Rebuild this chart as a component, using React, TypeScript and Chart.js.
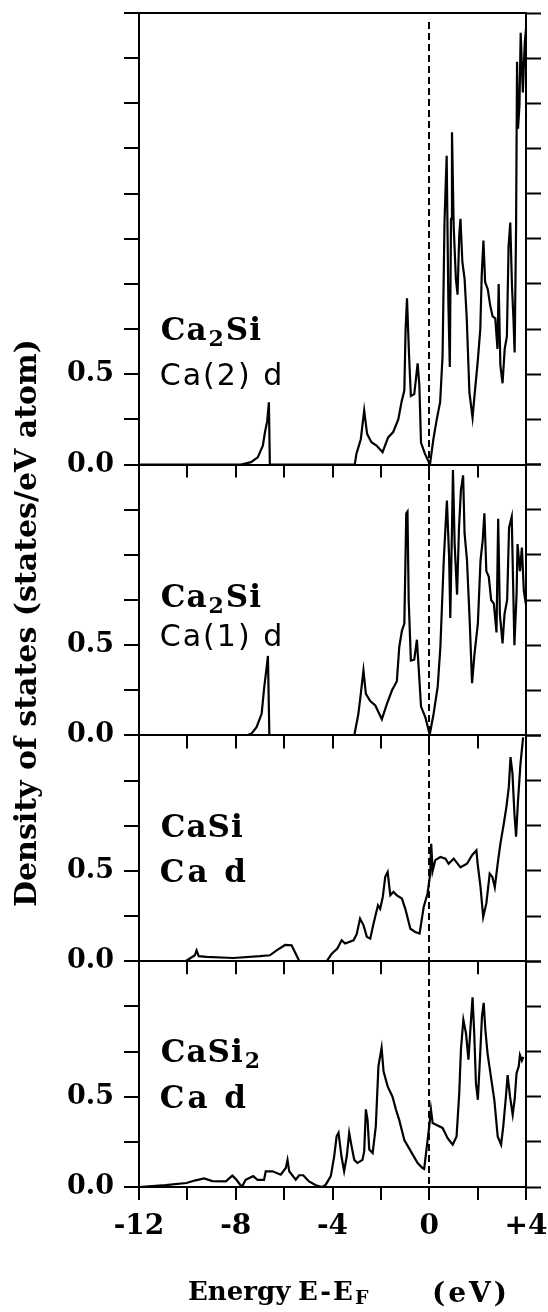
import React, { useEffect, useRef } from 'react';
import { Chart, registerables } from 'chart.js';

Chart.register(...registerables);

// ---------- axis settings ----------
const X_MIN = -12;
const X_MAX = 4;
const X_STEP = 2;
const Y_STEP = 0.25;
const PANEL_MAX = [2.5, 1.5, 1.25, 1.25];
const Y_TICK_LABELS: Record<string, string> = { '0': '0.0', '0.5': '0.5' };

// ---------- panel texts ----------
const PANEL_COMPOUND = ['Ca', 'Ca', 'CaSi', 'CaSi'];
const PANEL_SUB = ['2', '2', '', '2'];
const PANEL_REST = ['Si', 'Si', '', ''];
const PANEL_ORBITAL = ['Ca(2) d', 'Ca(1) d', 'Ca d', 'Ca d'];
const PANEL_ORBITAL_SANS = [true, true, false, false];
const Y_TITLE = 'Density of states (states/eV atom)';

// ---------- Ca2Si, Ca(2) d ----------
const E_P1 = [
  -12, -7.78, -7.37, -7.09, -6.88, -6.79, -6.70, -6.63, -6.59, -3.08,
  -3.01, -2.83, -2.69, -2.57, -2.39, -2.18, -1.93, -1.70, -1.49, -1.28,
  -1.14, -1.03, -0.98, -0.92, -0.84, -0.76, -0.62, -0.48, -0.41, -0.34,
  -0.18, 0.03, 0.17, 0.31, 0.45, 0.55, 0.63, 0.72, 0.79, 0.85,
  0.90, 0.94, 1.01, 1.10, 1.17, 1.24, 1.29, 1.37, 1.46, 1.55,
  1.66, 1.79, 1.87, 2.01, 2.11, 2.17, 2.24, 2.31, 2.42, 2.52,
  2.62, 2.73, 2.82, 2.87, 2.94, 3.03, 3.12, 3.21, 3.28, 3.35,
  3.42, 3.48, 3.53, 3.59, 3.63, 3.67, 3.73, 3.78, 3.87, 3.95,
  4.0,
];
const DOS_P1 = [
  0, 0, 0.013, 0.04, 0.105, 0.18, 0.24, 0.345, 0, 0,
  0.06, 0.14, 0.30, 0.17, 0.124, 0.105, 0.068, 0.15, 0.18, 0.25,
  0.35, 0.41, 0.74, 0.92, 0.62, 0.38, 0.39, 0.56, 0.44, 0.12,
  0.06, 0, 0.14, 0.25, 0.345, 0.60, 1.34, 1.71, 0.90, 0.54,
  1.36, 1.84, 1.32, 1.03, 0.94, 1.27, 1.36, 1.12, 1.03, 0.81,
  0.40, 0.26, 0.38, 0.58, 0.75, 1.05, 1.24, 1.01, 0.97, 0.88,
  0.82, 0.81, 0.64, 1.00, 0.55, 0.45, 0.64, 0.71, 1.21, 1.34,
  0.99, 0.81, 0.62, 1.32, 2.23, 1.86, 1.99, 2.39, 2.06, 2.34,
  2.41,
];

// ---------- Ca2Si, Ca(1) d ----------
const E_P2 = [
  -12, -7.55, -7.35, -7.14, -6.93, -6.82, -6.72, -6.67, -6.61, -3.10,
  -2.93, -2.83, -2.72, -2.62, -2.44, -2.23, -1.96, -1.75, -1.54, -1.34,
  -1.24, -1.13, -1.03, -0.95, -0.90, -0.85, -0.76, -0.62, -0.51, -0.44,
  -0.34, -0.16, 0.02, 0.18, 0.35, 0.46, 0.60, 0.73, 0.82, 0.87,
  0.94, 0.98, 1.05, 1.15, 1.23, 1.31, 1.40, 1.46, 1.56, 1.67,
  1.77, 1.87, 2.01, 2.12, 2.21, 2.28, 2.36, 2.46, 2.56, 2.67,
  2.78, 2.85, 2.92, 3.03, 3.11, 3.22, 3.30, 3.41, 3.52, 3.61,
  3.65, 3.75, 3.83, 3.91, 3.99,
];
const DOS_P2 = [
  0, 0, 0.01, 0.046, 0.12, 0.27, 0.38, 0.44, 0, 0,
  0.12, 0.23, 0.36, 0.23, 0.19, 0.166, 0.09, 0.175, 0.25, 0.30,
  0.49, 0.58, 0.62, 1.23, 1.24, 0.75, 0.415, 0.42, 0.53, 0.38,
  0.16, 0.10, 0.005, 0.12, 0.27, 0.49, 0.97, 1.30, 0.99, 0.65,
  1.15, 1.47, 1.06, 0.78, 1.15, 1.36, 1.44, 1.12, 0.97, 0.64,
  0.29, 0.45, 0.62, 0.97, 1.08, 1.23, 0.91, 0.88, 0.75, 0.73,
  0.57, 1.20, 0.67, 0.51, 0.67, 0.75, 1.15, 1.21, 0.50, 0.78,
  1.06, 0.91, 1.04, 0.80, 0.73,
];

// ---------- CaSi, Ca d ----------
const E_P3 = [
  -12, -10.07, -9.90, -9.69, -9.62, -9.53, -9.21, -8.10, -7.00, -6.59,
  -6.31, -5.96, -5.69, -5.55, -5.37, -4.24, -4.03, -3.80, -3.62, -3.48,
  -3.13, -3.00, -2.86, -2.72, -2.58, -2.44, -2.30, -2.12, -2.03, -1.92,
  -1.82, -1.72, -1.61, -1.48, -1.34, -1.13, -0.99, -0.78, -0.58, -0.40,
  -0.23, -0.07, 0.04, 0.08, 0.14, 0.25, 0.46, 0.67, 0.80, 1.01,
  1.29, 1.56, 1.77, 1.95, 2.00, 2.12, 2.23, 2.36, 2.50, 2.61,
  2.71, 2.83, 2.94, 3.08, 3.19, 3.29, 3.36, 3.44, 3.52, 3.59,
  3.67, 3.77, 3.88,
];
const DOS_P3 = [
  0, 0, 0.015, 0.033, 0.06, 0.028, 0.024, 0.018, 0.028, 0.033,
  0.06, 0.09, 0.088, 0.05, 0, 0, 0.042, 0.07, 0.116, 0.098,
  0.116, 0.15, 0.236, 0.20, 0.135, 0.125, 0.21, 0.31, 0.29, 0.356,
  0.467, 0.494, 0.365, 0.384, 0.365, 0.347, 0.29, 0.18, 0.162, 0.153,
  0.30, 0.375, 0.485, 0.65, 0.50, 0.56, 0.577, 0.568, 0.54, 0.568,
  0.52, 0.54, 0.587, 0.614, 0.54, 0.41, 0.245, 0.32, 0.485, 0.467,
  0.41, 0.54, 0.65, 0.76, 0.855, 0.965, 1.13, 1.04, 0.82, 0.69,
  0.89, 1.09, 1.24,
];

// ---------- CaSi2, Ca d ----------
const E_P4 = [
  -12, -10.90, -10.04, -9.66, -9.31, -8.97, -8.41, -8.14, -7.97, -7.75,
  -7.59, -7.28, -7.10, -6.83, -6.76, -6.48, -6.14, -5.93, -5.86, -5.79,
  -5.52, -5.38, -5.21, -4.97, -4.69, -4.41, -4.28, -4.07, -3.93, -3.83,
  -3.75, -3.63, -3.52, -3.41, -3.31, -3.21, -3.10, -2.97, -2.76, -2.69,
  -2.62, -2.55, -2.48, -2.34, -2.21, -2.10, -1.97, -1.89, -1.72, -1.52,
  -1.38, -1.24, -1.03, -0.76, -0.48, -0.28, -0.21, -0.10, 0.00, 0.07,
  0.14, 0.28, 0.55, 0.76, 0.97, 1.13, 1.24, 1.31, 1.41, 1.52,
  1.62, 1.70, 1.79, 1.86, 1.93, 2.01, 2.10, 2.18, 2.25, 2.32,
  2.41, 2.55, 2.69, 2.83, 2.97, 3.06, 3.17, 3.24, 3.34, 3.45,
  3.53, 3.61, 3.70, 3.75, 3.83, 3.89,
];
const DOS_P4 = [
  0, 0.01, 0.022, 0.037, 0.048, 0.033, 0.031, 0.063, 0.04, 0,
  0.04, 0.06, 0.04, 0.04, 0.087, 0.087, 0.068, 0.105, 0.15, 0.087,
  0.04, 0.065, 0.065, 0.031, 0.01, 0, 0.013, 0.06, 0.17, 0.28,
  0.30, 0.17, 0.087, 0.17, 0.30, 0.225, 0.15, 0.133, 0.15, 0.197,
  0.43, 0.37, 0.207, 0.188, 0.336, 0.67, 0.77, 0.64, 0.557, 0.50,
  0.43, 0.37, 0.26, 0.197, 0.133, 0.105, 0.10, 0.225, 0.336, 0.43,
  0.354, 0.345, 0.327, 0.27, 0.234, 0.28, 0.52, 0.76, 0.926, 0.85,
  0.705, 0.87, 1.05, 0.85, 0.575, 0.483, 0.72, 0.945, 1.02, 0.87,
  0.74, 0.61, 0.483, 0.28, 0.234, 0.336, 0.50, 0.62, 0.50, 0.40,
  0.483, 0.63, 0.668, 0.73, 0.70, 0.72,
];

const PANEL_E = [E_P1, E_P2, E_P3, E_P4];
const PANEL_DOS = [DOS_P1, DOS_P2, DOS_P3, DOS_P4];

const SERIF = '"DejaVu Serif", serif';
const SANS = '"DejaVu Sans", sans-serif';
const LEFT_IDS = ['y1', 'y2', 'y3', 'y4'];
const RIGHT_IDS = ['r1', 'r2', 'r3', 'r4'];

const fmtX = (v: number) => (v % 4 !== 0 ? '' : v > 0 ? '+' + v : String(v));

const setSpacing = (ctx: any, px: number) => {
  ctx.letterSpacing = px + 'px';
};

const annotate = {
  id: 'annotate',
  afterDatasetsDraw(chart: any) {
    const ctx: CanvasRenderingContext2D = chart.ctx;
    const xs = chart.scales.x;
    const area = chart.chartArea;
    ctx.save();
    ctx.fillStyle = '#000';
    ctx.strokeStyle = '#000';
    ctx.lineWidth = 2;
    // downward x ticks at the inner panel boundaries
    for (let i = 0; i < 3; i++) {
      const ys = chart.scales[LEFT_IDS[i]];
      const y0 = ys.getPixelForValue(0);
      for (const t of xs.ticks) {
        const px = Math.round(xs.getPixelForValue(t.value));
        ctx.beginPath();
        ctx.moveTo(px, y0);
        ctx.lineTo(px, y0 + 13);
        ctx.stroke();
      }
    }
    // Fermi level
    const x0 = Math.round(xs.getPixelForValue(0));
    ctx.setLineDash([7, 4]);
    ctx.lineWidth = 2;
    ctx.beginPath();
    ctx.moveTo(x0, area.top + 9);
    ctx.lineTo(x0, area.bottom);
    ctx.stroke();
    ctx.setLineDash([]);

    // panel labels
    const lx = xs.getPixelForValue(-11.1);
    for (let i = 0; i < 4; i++) {
      const ys = chart.scales[LEFT_IDS[i]];
      const by1 = ys.getPixelForValue(i === 1 ? 0.71 : 0.69);
      const by2 = ys.getPixelForValue(i === 1 ? 0.495 : 0.44);
      ctx.textAlign = 'left';
      ctx.textBaseline = 'alphabetic';
      setSpacing(ctx, 1);
      ctx.font = `bold 31px ${SERIF}`;
      let cx = lx;
      ctx.fillText(PANEL_COMPOUND[i], cx, by1);
      cx += ctx.measureText(PANEL_COMPOUND[i]).width + 1;
      if (PANEL_SUB[i]) {
        ctx.font = `bold 22px ${SERIF}`;
        ctx.fillText(PANEL_SUB[i], cx, by1 + 6);
        cx += ctx.measureText(PANEL_SUB[i]).width + 1;
      }
      if (PANEL_REST[i]) {
        ctx.font = `bold 31px ${SERIF}`;
        ctx.fillText(PANEL_REST[i], cx, by1);
      }
      ctx.font = PANEL_ORBITAL_SANS[i] ? `30px ${SANS}` : `bold 31px ${SERIF}`;
      setSpacing(ctx, PANEL_ORBITAL_SANS[i] ? 2 : 3);
      ctx.fillText(PANEL_ORBITAL[i], lx - 1, by2);
      setSpacing(ctx, 0);
    }

    // y title
    ctx.save();
    ctx.translate(28, 623);
    ctx.rotate(-Math.PI / 2);
    ctx.font = `bold 30px ${SERIF}`;
    ctx.textAlign = 'center';
    ctx.textBaseline = 'middle';
    ctx.fillText(Y_TITLE, 0, 0);
    ctx.restore();

    // x title: Energy E-E_F (eV)
    const base = 1300;
    ctx.textAlign = 'left';
    ctx.textBaseline = 'alphabetic';
    ctx.font = `bold 26px ${SERIF}`;
    ctx.fillText('Energy', 188, base);
    setSpacing(ctx, 2);
    ctx.fillText('E-E', 298, base);
    const w = ctx.measureText('E-E').width;
    setSpacing(ctx, 0);
    ctx.font = `bold 19px ${SERIF}`;
    ctx.fillText('F', 298 + w, base + 4);
    ctx.font = `bold 28px ${SERIF}`;
    setSpacing(ctx, 3);
    ctx.fillText('(eV)', 432, base + 2);
    setSpacing(ctx, 0);
    ctx.restore();
  },
};

export default function App() {
  const ref = useRef<HTMLCanvasElement | null>(null);
  useEffect(() => {
    if (!ref.current) return;
    const scales: any = {
      x: {
        type: 'linear',
        position: 'bottom',
        min: X_MIN,
        max: X_MAX,
        ticks: {
          stepSize: X_STEP,
          autoSkip: false,
          maxRotation: 0,
          callback: (v: any) => fmtX(Number(v)),
          font: { family: SERIF, weight: 'bold', size: 28 },
          color: '#000',
          padding: 10,
        },
        grid: {
          drawOnChartArea: false,
          tickLength: 13,
          tickWidth: 2,
          tickColor: '#000',
          color: '#000',
          lineWidth: 2,
        },
        border: { display: true, color: '#000', width: 2 },
        afterFit: (s: any) => {
          s.height = 125;
          s.paddingLeft = 0;
          s.paddingRight = 0;
        },
      },
    };
    PANEL_MAX.forEach((mx, i) => {
      scales[LEFT_IDS[i]] = {
        type: 'linear',
        position: 'left',
        stack: 'left',
        stackWeight: mx,
        weight: 4 - i,
        min: 0,
        max: mx,
        ticks: {
          stepSize: Y_STEP,
          autoSkip: false,
          callback: (v: any) => Y_TICK_LABELS[String(Number(v))] ?? '',
          font: { family: SERIF, weight: 'bold', size: 27 },
          color: '#000',
          padding: 10,
        },
        grid: {
          drawOnChartArea: true,
          color: (c: any) =>
            c.tick && (c.tick.value === 0 || c.tick.value === mx) ? '#000' : 'rgba(0,0,0,0)',
          lineWidth: 2,
          tickLength: 15,
          tickWidth: 2,
          tickColor: '#000',
        },
        border: { display: true, color: '#000', width: 2 },
        afterFit: (s: any) => {
          s.width = 139;
          s.paddingTop = 0;
          s.paddingBottom = 0;
        },
      };
    });
    PANEL_MAX.forEach((mx, i) => {
      scales[RIGHT_IDS[i]] = {
        type: 'linear',
        position: 'right',
        stack: 'right',
        stackWeight: mx,
        weight: i + 1,
        min: 0,
        max: mx,
        ticks: { stepSize: Y_STEP, autoSkip: false, display: false },
        grid: {
          drawOnChartArea: false,
          tickLength: 15,
          tickWidth: 2,
          tickColor: '#000',
          color: '#000',
        },
        border: { display: true, color: '#000', width: 2 },
        afterFit: (s: any) => {
          s.width = 22;
          s.paddingTop = 0;
          s.paddingBottom = 0;
        },
      };
    });

    const datasets: any[] = PANEL_E.map((es, i) => ({
      data: es.map((e, k) => ({ x: e, y: PANEL_DOS[i][k] })),
      xAxisID: 'x',
      yAxisID: LEFT_IDS[i],
      borderColor: '#000',
      borderWidth: 2.2,
      pointRadius: 0,
      tension: 0,
      fill: false,
    }));

    const chart = new Chart(ref.current, {
      type: 'line',
      data: { datasets },
      options: {
        animation: false,
        responsive: false,
        devicePixelRatio: 1,
        events: [],
        layout: { padding: { top: 13, left: 0, right: 0, bottom: 0 } },
        plugins: { legend: { display: false }, tooltip: { enabled: false }, title: { display: false } },
        scales,
      } as any,
      plugins: [annotate],
    });
    return () => chart.destroy();
  }, []);

  return (
    <div style={{ position: 'absolute', left: 0, top: 0, width: 548, height: 1312, background: '#fff' }}>
      <canvas ref={ref} width={548} height={1312} style={{ display: 'block' }} />
    </div>
  );
}
